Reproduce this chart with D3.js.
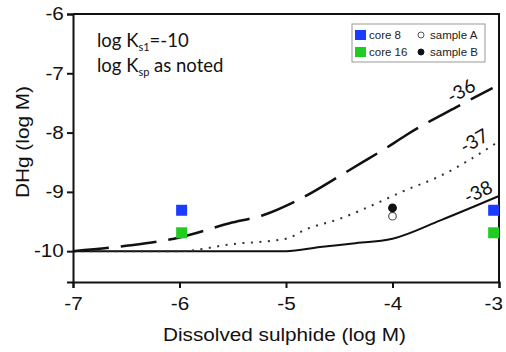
<!DOCTYPE html>
<html>
<head>
<meta charset="utf-8">
<script src="https://cdn.jsdelivr.net/npm/d3@7"></script>
<style>
  body { margin: 0; background: #fff; }
  svg { display: block; }
  .tick text { font-family: "Liberation Sans", Arial, sans-serif; font-size: 18px; fill: #111; }
</style>
</head>
<body>
<svg id="chart" width="506" height="352"></svg>
<script>
// log sulphide positions and curve values
var curve36X = [-7, -6.5, -6, -5.53, -5.21, -4.89, -4.43, -4.3, -3.98, -3.87, -3.4, -3.06];
var curve36Y = [-10, -9.91, -9.77, -9.53, -9.39, -9.14, -8.66, -8.52, -8.17, -8.04, -7.57, -7.25];
var curve37X = [-7, -6, -5.5, -5, -4.81, -4.49, -4.12, -3.9, -3.55, -3.02];
var curve37Y = [-10, -10, -9.88, -9.79, -9.63, -9.45, -9.17, -8.99, -8.73, -8.17];
var curve38X = [-7, -5, -4.68, -4.37, -4, -3.55, -3];
var curve38Y = [-10, -10, -9.93, -9.87, -9.79, -9.48, -9.07];

var coreNames = ['core 8', 'core 16'];
var coreColors = ['#1a3cff', '#1fcc1f'];
var coreX = [-5.98, -3.05];
var core8Y = [-9.31, -9.31];
var core16Y = [-9.69, -9.69];

var sampleNames = ['sample A', 'sample B'];
var sampleX = [-4, -4];
var sampleY = [-9.41, -9.27];

var xTicks = [-7, -6, -5, -4, -3];
var yTicks = [-10, -9, -8, -7, -6];

var svg = d3.select('#chart');
var x = d3.scaleLinear().domain([-7, -3]).range([73, 499]);
var y = d3.scaleLinear().domain([-10.52, -6]).range([282, 14]);

// frame (top and right)
svg.append('path')
    .attr('d', 'M' + x(-7) + ',' + y(-6) + 'H' + x(-3) + 'V' + y(-10.52))
    .attr('fill', 'none').attr('stroke', '#111').attr('stroke-width', 2);

var xAxis = svg.append('g')
    .attr('transform', 'translate(0,' + y(-10.52) + ')')
    .call(d3.axisBottom(x).tickValues(xTicks).tickSize(6).tickPadding(9));
var yAxis = svg.append('g')
    .attr('transform', 'translate(' + x(-7) + ',0)')
    .call(d3.axisLeft(y).tickValues(yTicks).tickSize(6).tickPadding(2));
[xAxis, yAxis].forEach(function(a) {
    a.select('.domain').attr('stroke', '#111').attr('stroke-width', 2);
    a.selectAll('.tick line').attr('stroke', '#111').attr('stroke-width', 2);
    // the original tick font is wider than Arial
    a.selectAll('.tick text')
        .text(function(d){ return '-' + Math.abs(d); })
        .attr('transform', 'scale(1.15,1)');
});
// last x label is pulled in so it stays on the page
xAxis.selectAll('.tick text').filter(function(d){ return d == -3; }).attr('x', -5);

// axis titles
svg.append('text')
    .attr('x', 163).attr('y', 341)
    .attr('textLength', 243).attr('lengthAdjust', 'spacingAndGlyphs')
    .style('font-family', '"Liberation Sans", Arial, sans-serif')
    .style('font-size', '18px').attr('fill', '#111')
    .text('Dissolved sulphide (log M)');
svg.append('text')
    .attr('transform', 'translate(29,198) rotate(-90)')
    .attr('textLength', 112).attr('lengthAdjust', 'spacingAndGlyphs')
    .style('font-family', '"Liberation Sans", Arial, sans-serif')
    .style('font-size', '18px').attr('fill', '#111')
    .text('DHg (log M)');

// curves
var line = d3.line().x(function(d){ return x(d[0]); }).y(function(d){ return y(d[1]); })
    .curve(d3.curveMonotoneX);
function pairs(xs, ys) { return xs.map(function(v, i){ return [v, ys[i]]; }); }

svg.append('path').datum(pairs(curve38X, curve38Y))
    .attr('d', line).attr('fill', 'none').attr('stroke', '#111').attr('stroke-width', 2);
svg.append('path').datum(pairs(curve37X, curve37Y))
    .attr('d', line).attr('fill', 'none').attr('stroke', '#333')
    .attr('stroke-width', 2).attr('stroke-dasharray', '2,6.5');
svg.append('path').datum(pairs(curve36X, curve36Y))
    .attr('d', line).attr('fill', 'none').attr('stroke', '#111')
    .attr('stroke-width', 2.5).attr('stroke-dasharray', '36,12');

// curve labels
var curveLabels = [['-36', 461, 91, -30], ['-37', 474, 141, -30], ['-38', 478, 192, -25]];
svg.selectAll('.clabel').data(curveLabels).enter().append('text')
    .attr('class', 'clabel')
    .attr('transform', function(d){ return 'translate(' + d[1] + ',' + d[2] + ') rotate(' + d[3] + ')'; })
    .attr('text-anchor', 'middle').attr('dy', '0.35em')
    .style('font-family', 'Lato, sans-serif').style('font-size', '19px').attr('fill', '#111')
    .text(function(d){ return d[0]; });

// core squares
var cores = [];
coreX.forEach(function(v, i){
    cores.push({x: v, y: core8Y[i], c: coreColors[0]});
    cores.push({x: v, y: core16Y[i], c: coreColors[1]});
});
svg.selectAll('.core').data(cores).enter().append('rect')
    .attr('class', 'core')
    .attr('x', function(d){ return x(d.x) - 5.5; })
    .attr('y', function(d){ return y(d.y) - 5.5; })
    .attr('width', 11).attr('height', 11)
    .attr('fill', function(d){ return d.c; });

// samples
svg.selectAll('.sample').data(sampleX).enter().append('circle')
    .attr('cx', function(d){ return x(d); })
    .attr('cy', function(d, i){ return y(sampleY[i]); })
    .attr('r', 3.8)
    .attr('fill', function(d, i){ return i == 0 ? '#fff' : '#111'; })
    .attr('stroke', function(d, i){ return i == 0 ? '#555' : '#111'; })
    .attr('stroke-width', 1.2);

// annotation
var note = svg.append('g').style('font-family', 'Lato, sans-serif').style('font-size', '18.5px').attr('fill', '#111');
var t1 = note.append('text').attr('x', 97).attr('y', 47);
t1.append('tspan').text('log K');
t1.append('tspan').attr('dy', 4).style('font-size', '11px').text('s1');
t1.append('tspan').attr('dy', -4).text('=-10');
var t2 = note.append('text').attr('x', 97).attr('y', 72);
t2.append('tspan').text('log K');
t2.append('tspan').attr('dy', 4).style('font-size', '11px').text('sp');
t2.append('tspan').attr('dy', -4).text(' as noted');

// legend
var lg = svg.append('g').attr('transform', 'translate(352,24)');
lg.append('rect').attr('width', 133).attr('height', 38)
    .attr('fill', '#fff').attr('stroke', '#999').attr('stroke-width', 1);
coreNames.forEach(function(n, i){
    lg.append('rect').attr('x', 3).attr('y', 6 + i * 17).attr('width', 11).attr('height', 10).attr('fill', coreColors[i]);
    lg.append('text').attr('x', 17).attr('y', 15 + i * 17)
        .style('font-family', '"Liberation Sans", Arial, sans-serif').style('font-size', '11.5px').attr('fill', '#222')
        .text(n);
});
sampleNames.forEach(function(n, i){
    lg.append('circle').attr('cx', 69).attr('cy', 11 + i * 17).attr('r', 3)
        .attr('fill', i == 0 ? '#fff' : '#111').attr('stroke', i == 0 ? '#555' : '#111').attr('stroke-width', 1);
    lg.append('text').attr('x', 78).attr('y', 15 + i * 17)
        .style('font-family', '"Liberation Sans", Arial, sans-serif').style('font-size', '11.5px').attr('fill', '#222')
        .text(n);
});
</script>
</body>
</html>
